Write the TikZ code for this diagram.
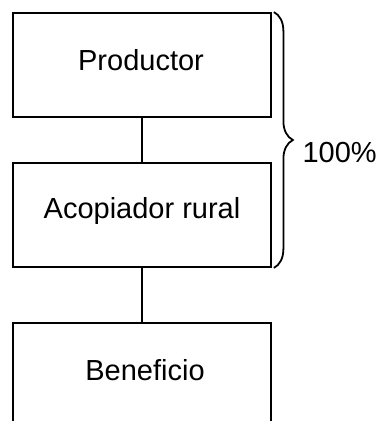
\documentclass[tikz,border=0pt]{standalone}
\usepackage{fontspec}
\setmainfont{Liberation Sans}
\usetikzlibrary{decorations.pathreplacing}
\usetikzlibrary{positioning}

\begin{document}
\begin{tikzpicture}[x=1pt, y=-1pt,
        caja/.style={rectangle, draw, line width=1.8pt, minimum width=258pt, minimum height=104pt, inner sep=0pt},
        texto/.style={anchor=base, font=\fontsize{29}{34}\selectfont},
        linea/.style={line width=1.8pt}]
            \clip (0,0) rectangle (383,421);

            \node[caja] (prod) at (142,65) {};
            \node[caja] (acop) at (142,215) {};
            \node[caja] (benef) at (142,375) {};

            \node[texto] (tprod) at (141,70) {Productor};
            \node[texto] (tacop) at (142,218) {Acopiador rural};
            \node[texto] (tbenef) at (145,380) {Beneficio};

            \draw[linea] (prod.south) -- (acop.north);
            \draw[linea] (acop.south) -- (benef.north);

            % llave del 100%
            \draw[linea, decorate, decoration={brace, amplitude=19pt}] ([xshift=2pt]prod.north east) -- ([xshift=2pt]acop.south east);
            \node[texto, anchor=base west] (pct) at (299,162) {100\%};
        \end{tikzpicture}
\end{document}
